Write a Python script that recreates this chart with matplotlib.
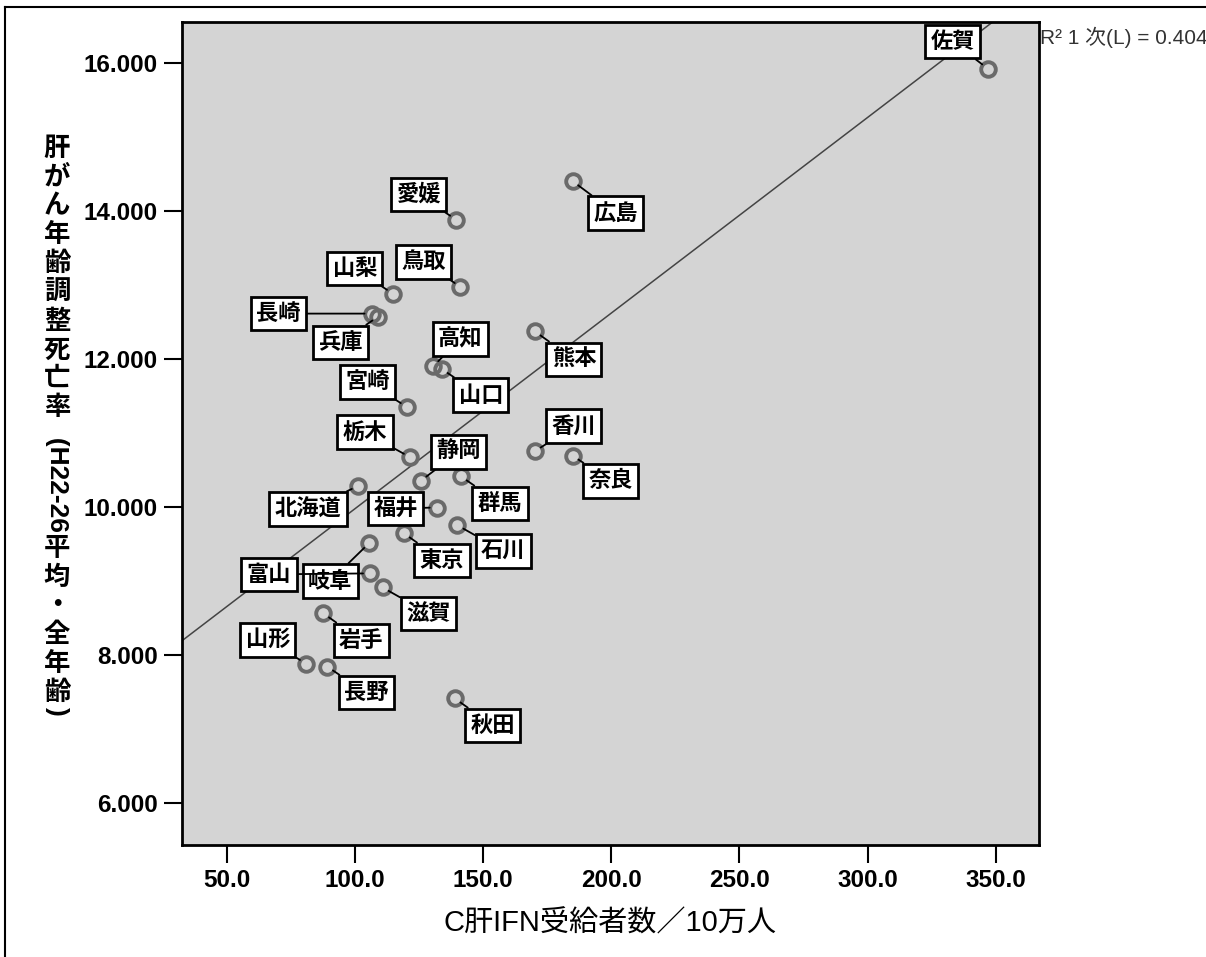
#!/usr/bin/env python3
"""
C肝IFN受給者数 vs 肝がん年齢調整死亡率 scatter (SPSS style)
"""

import matplotlib
matplotlib.use('Agg')
import matplotlib.pyplot as plt
from matplotlib.lines import Line2D
import numpy as np

plt.rcParams['font.family'] = ['Liberation Sans', 'Noto Sans CJK JP', 'DejaVu Sans']

# data
names = ['佐賀', '広島', '愛媛', '鳥取', '山梨', '長崎', '兵庫', '高知', '山口', '熊本',
         '宮崎', '栃木', '香川', '奈良', '静岡', '群馬', '北海道', '福井', '石川', '東京',
         '岐阜', '富山', '滋賀', '岩手', '山形', '長野', '秋田']
ifn = [346.8, 184.9, 139.4, 141.2, 114.8, 106.5, 109.1, 130.6, 133.9, 170.2,
       120.2, 121.5, 170.2, 184.9, 125.7, 141.4, 101.3, 131.9, 140.0, 119.2,
       105.6, 105.9, 110.8, 87.7, 80.9, 89.2, 139.0]
mort = [15.92, 14.40, 13.88, 12.97, 12.88, 12.61, 12.57, 11.90, 11.86, 12.37,
        11.35, 10.67, 10.75, 10.69, 10.35, 10.41, 10.28, 9.99, 9.75, 9.64,
        9.51, 9.10, 8.91, 8.56, 7.88, 7.84, 7.41]
r2_text = 'R² 1 次(L) = 0.404'
xticks = [50, 100, 150, 200, 250, 300, 350]
yticks = [6, 8, 10, 12, 14, 16]
xlabel = 'C肝IFN受給者数／10万人'
ylabel_parts = [('肝', 0), ('が', 0), ('ん', 0), ('年', 0), ('齢', 0), ('調', 0), ('整', 0),
                ('死', 0), ('亡', 0), ('率', 0), ('  (H22-26', 1), ('平', 0), ('均', 0),
                ('・', 0), ('全', 0), ('年', 0), ('齢', 0), (')', 1)]

# label box offsets in pixels (dx, dy up)
label_off = {'佐賀': (-35, 27), '広島': (43, -32), '愛媛': (-37, 25), '鳥取': (-37, 25),
             '山梨': (-38, 25), '長崎': (-93, 0), '兵庫': (-38, -26), '高知': (27, 27),
             '山口': (39, -26), '熊本': (39, -28), '宮崎': (-39, 25), '栃木': (-45, 25),
             '香川': (39, 25), '奈良': (38, -25), '静岡': (38, 29), '群馬': (39, -27),
             '北海道': (-50, -23), '福井': (-41, -1), '石川': (46, -26), '東京': (38, -27),
             '岐阜': (-39, -38), '富山': (-101, -1), '滋賀': (46, -26), '岩手': (38, -27),
             '山形': (-38, 24), '長野': (39, -26), '秋田': (38, -27)}

W, H = 1206, 957
fig = plt.figure(figsize=(W / 100, H / 100), dpi=100)
ax = fig.add_axes([181.5 / W, 1 - 845 / H, (1039 - 181.5) / W, (845 - 22) / H])
ax.set_facecolor('#d4d4d4')
ax.set_xlim(32.4, 366.8)
ax.set_ylim(5.43, 16.55)

# linear fit
coef = np.polyfit(ifn, mort, 1)
xl = np.array(ax.get_xlim())
ax.plot(xl, np.polyval(coef, xl), color='#444444', lw=1.1, zorder=2)

ax.plot(ifn, mort, 'o', ms=10.5, mfc='none', mec='#6a6a6a', mew=2.8, zorder=3)

for n, x, y in zip(names, ifn, mort):
    dx, dy = label_off[n]
    ax.annotate(n, (x, y), xytext=(dx, dy), textcoords='offset pixels',
                ha='center', va='center', fontsize=16, fontweight='bold',
                family=['Noto Sans CJK JP'],
                bbox=dict(boxstyle='square,pad=0.24', fc='white', ec='black', lw=2),
                arrowprops=dict(arrowstyle='-', color='black', lw=1.3, shrinkA=0, shrinkB=5),
                zorder=4)

ax.set_xticks(xticks)
ax.set_xticklabels([f'{v:.1f}' for v in xticks])
ax.set_yticks(yticks)
ax.set_yticklabels([f'{v:.3f}' for v in yticks])
ax.tick_params(direction='out', length=13, width=1.5, labelsize=17.5, pad=4)
for lab in ax.get_xticklabels() + ax.get_yticklabels():
    lab.set_fontweight('bold')
for sp in ax.spines.values():
    sp.set_linewidth(2)

ax.set_xlabel(xlabel, fontsize=21, labelpad=13)

fig.text(1040 / W, 1 - 37 / H, r2_text, fontsize=15, color='#333333',
         ha='left', va='center')

# vertical y-label, CJK upright and latin rotated
renderer = fig.canvas.get_renderer()
cur = 134
step = 28.8
for s, rot in ylabel_parts:
    if rot:
        t = fig.text(57 / W, 1 - cur / H, s, rotation=-90, ha='center', va='top',
                     fontsize=19, fontweight='bold')
        cur += t.get_window_extent(renderer).height + 2
    else:
        fig.text(57 / W, 1 - (cur + step / 2) / H, s, ha='center', va='center',
                 fontsize=19, fontweight='bold', family=['Noto Sans CJK JP'])
        cur += step

# outer frame lines
fig.add_artist(Line2D([5 / W, 1], [1 - 7 / H, 1 - 7 / H], color='black', lw=1.5))
fig.add_artist(Line2D([5 / W, 5 / W], [0, 1 - 7 / H], color='black', lw=1.5))

fig.savefig('out.png', dpi=100)
